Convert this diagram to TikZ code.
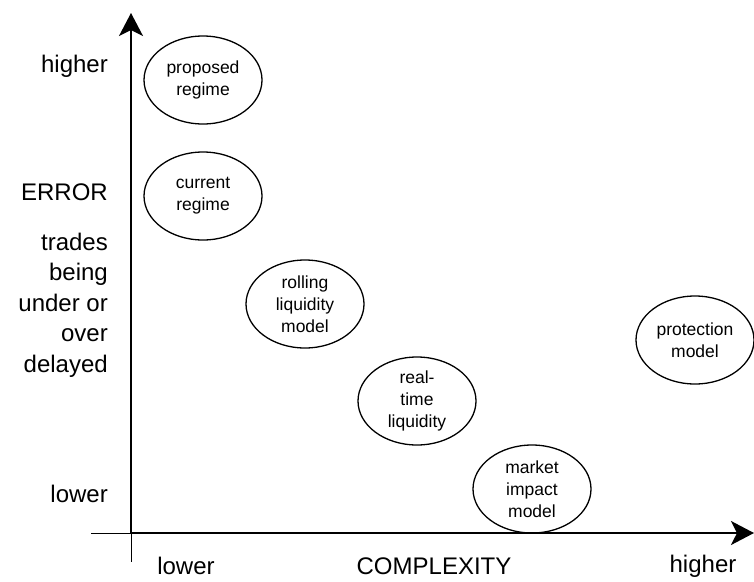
\documentclass[tikz,border=0pt]{standalone}
\usepackage{fontspec}
\setmainfont{Liberation Sans}
\usetikzlibrary{shapes.geometric,arrows.meta}
\tikzset{
  model/.style={draw, ellipse, line width=1.3pt, minimum width=118pt, minimum height=88pt,
    inner sep=0pt, align=center, font=\fontsize{17.5}{22}\selectfont},
  axislabel/.style={inner sep=0pt, font=\fontsize{24}{30.5}\selectfont},
  axis/.style={line width=1.6pt, -{Stealth[length=23pt,width=24pt,inset=6pt]}}
}
\begin{document}
\begin{tikzpicture}[x=1pt,y=-1pt]
      \useasboundingbox (0,0) rectangle (754,581);
      % axes
      \coordinate (origin) at (131,533);
      \coordinate (ytop) at (131,13);
      \coordinate (xend) at (754,533);
      \coordinate (xstub) at (91,533);
      \coordinate (ystub) at (131,562);
      \draw[line width=0.8pt] (xstub) -- (origin) -- (ystub);
      \draw[axis] (origin) -- (ytop);
      \draw[axis] (origin) -- (xend);
      % models
      \node[model] (proposed) at (203,80) {proposed\\regime};
      \node[model] (current) at (203,196) {current\\regime};
      \node[model] (rolling) at (305,304) {rolling\\liquidity\\model};
      \node[model] (realtime) at (417,401) {real-\\time\\liquidity};
      \node[model] (impact) at (532,489) {market\\impact\\model};
      \node[model] (protection) at (695,340) {protection\\model};
      % error axis labels
      \node[axislabel, anchor=east] (errhigh) at (108,66) {higher};
      \node[axislabel, anchor=east] (errname) at (108,192) {ERROR};
      \node[axislabel, anchor=east, align=right] (errdesc) at (108,305) {trades\\being\\under or\\over\\delayed};
      \node[axislabel, anchor=east] (errlow) at (108,494) {lower};
      % complexity axis labels
      \node[axislabel] (cxlow) at (186,566) {lower};
      \node[axislabel] (cxname) at (434,566) {COMPLEXITY};
      \node[axislabel] (cxhigh) at (703,566) {higher};
\end{tikzpicture}
\end{document}
